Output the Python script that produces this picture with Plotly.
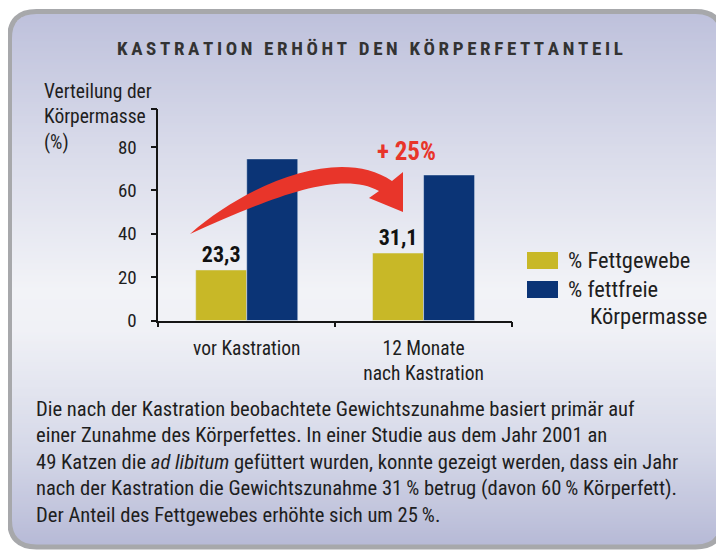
import plotly.graph_objects as go

# ---------------- data ----------------
categories = ["vor Kastration", "12 Monate<br>nach Kastration"]
fat_pct = [23.3, 31.1]           # % Fettgewebe (labelled values)
lean_pct = [74.5, 67.1]          # % fettfreie Körpermasse
series_names = ["% Fettgewebe", "% fettfreie<br>Körpermasse"]
y_tickvals = [0, 20, 40, 60, 80, 97.5]
y_ticktext = ["0", "20", "40", "60", "80", ""]
title_text = "KASTRATION ERHÖHT DEN KÖRPERFETTANTEIL"
y_title = "Verteilung der<br>Körpermasse<br>(%)"
increase_label = "+ 25%"
body_lines = [
    "Die nach der Kastration beobachtete Gewichtszunahme basiert primär auf",
    "einer Zunahme des Körperfettes. In einer Studie aus dem Jahr 2001 an",
    "49 Katzen die <i>ad libitum</i> gefüttert wurden, konnte gezeigt werden, dass ein Jahr",
    "nach der Kastration die Gewichtszunahme 31\u2009% betrug (davon 60\u2009% Körperfett).",
    "Der Anteil des Fettgewebes erhöhte sich um 25\u2009%.",
]

# ---------------- style ----------------
OFF = 8                      # page body margin
W, H = 724 - OFF, 550 - OFF  # figure size so that it fits the window
YELLOW = "#c8b827"
BLUE = "#0b3476"
RED = "#e8352a"
TXT = "#1e1e1e"
FONT = "Roboto Condensed, Roboto, sans-serif"


def px(x, y):
    """page pixel -> paper fraction"""
    return (x - OFF) / W, 1 - (y - OFF) / H


fig = go.Figure()

fig.add_trace(go.Bar(
    x=categories, y=fat_pct, name=series_names[0], marker_color=YELLOW,
    texttemplate="%{y:.1f}", textposition="outside",
    textfont=dict(family=FONT, size=22, color="#111111", weight="bold"),
    cliponaxis=False, showlegend=False,
))
fig.add_trace(go.Bar(
    x=categories, y=lean_pct, name=series_names[1], marker_color=BLUE,
    showlegend=False,
))

# -------- background: rounded panel with vertical gradient --------
stops = [(9, (189, 192, 219)), (150, (217, 219, 234)), (290, (242, 243, 247)),
         (330, (240, 241, 246)), (450, (213, 216, 232)), (548, (182, 185, 214))]


def col_at(y):
    for (y0, c0), (y1, c1) in zip(stops[:-1], stops[1:]):
        if y0 <= y <= y1:
            t = (y - y0) / (y1 - y0)
            return "rgb(%d,%d,%d)" % tuple(round(a + (b - a) * t) for a, b in zip(c0, c1))
    return "rgb(%d,%d,%d)" % stops[-1][1]


X0, X1, Y0, Y1, R = 9.5, 722.5, 11.5, 547.0, 27.0
shapes = []
step = 3
y = Y0
while y < Y1:
    yb = min(y + step, Y1)
    yc = (y + yb) / 2
    inset = 0.0
    if yc < Y0 + R:
        d = Y0 + R - yc
        inset = R - (max(R * R - d * d, 0)) ** 0.5
    elif yc > Y1 - R:
        d = yc - (Y1 - R)
        inset = R - (max(R * R - d * d, 0)) ** 0.5
    ax, ay = px(X0 + inset, y)
    bx, by = px(X1 - inset, yb + 0.6)
    shapes.append(dict(type="rect", xref="paper", yref="paper", x0=ax, x1=bx, y0=by, y1=ay,
                       line=dict(width=0), fillcolor=col_at(yc), layer="below"))
    y = yb


def P(x, y):
    a, b = px(x, y)
    return f"{a:.5f},{b:.5f}"


border = (f"M{P(X0 + R, Y0)} L{P(X1 - R, Y0)} Q{P(X1, Y0)} {P(X1, Y0 + R)} "
          f"L{P(X1, Y1 - R)} Q{P(X1, Y1)} {P(X1 - R, Y1)} L{P(X0 + R, Y1)} "
          f"Q{P(X0, Y1)} {P(X0, Y1 - R)} L{P(X0, Y0 + R)} Q{P(X0, Y0)} {P(X0 + R, Y0)} Z")
shapes.append(dict(type="path", xref="paper", yref="paper", path=border,
                   line=dict(color="#a7a8ab", width=5), fillcolor="rgba(0,0,0,0)", layer="below"))

# -------- curved red arrow --------
arrow = (f"M{P(190, 234)} C{P(250, 182)} {P(340, 146)} {P(392, 181)} "
         f"L{P(403, 172)} L{P(403, 212)} L{P(369, 198)} L{P(379, 191)} "
         f"C{P(338, 168)} {P(262, 202)} {P(190, 234)} Z")
shapes.append(dict(type="path", xref="paper", yref="paper", path=arrow,
                   line=dict(width=0), fillcolor=RED, layer="above"))

# -------- legend swatches --------
for (y0, y1), c in zip([(252, 269), (281, 298)], [YELLOW, BLUE]):
    ax, ay = px(527, y0)
    bx, by = px(558, y1)
    shapes.append(dict(type="rect", xref="paper", yref="paper", x0=ax, x1=bx, y0=by, y1=ay,
                       line=dict(width=0), fillcolor=c, layer="above"))

annotations = []
# title with letter spacing
spaced = "\u2009 \u2009".join("\u2009".join(w) for w in title_text.split(" "))
tx, ty = px(370, 48)
annotations.append(dict(xref="paper", yref="paper", x=tx, y=ty, text=spaced, showarrow=False,
                        xanchor="center", yanchor="middle",
                        font=dict(family=FONT, size=19, color="#333333", weight="bold")))
# y-axis title
ax_, ay_ = px(42, 117)
annotations.append(dict(xref="paper", yref="paper", x=ax_, y=ay_, text=y_title, showarrow=False,
                        xanchor="left", yanchor="middle", align="left",
                        font=dict(family=FONT, size=19.5, color=TXT)))
# + 25 %
ix, iy = px(407, 151)
annotations.append(dict(xref="paper", yref="paper", x=ix, y=iy, text=f"<b>{increase_label}</b>",
                        showarrow=False, xanchor="center", yanchor="middle",
                        font=dict(family=FONT, size=25, color=RED)))
# legend texts
lx, ly = px(566, 260)
annotations.append(dict(xref="paper", yref="paper", x=lx, y=ly, text=series_names[0], showarrow=False,
                        xanchor="left", yanchor="middle", font=dict(family=FONT, size=22.5, color=TXT)))
lx, ly = px(566, 289)
annotations.append(dict(xref="paper", yref="paper", x=lx, y=ly, text=series_names[1].split("<br>")[0],
                        showarrow=False, xanchor="left", yanchor="middle",
                        font=dict(family=FONT, size=22.5, color=TXT)))
lx, ly = px(588, 316)
annotations.append(dict(xref="paper", yref="paper", x=lx, y=ly, text=series_names[1].split("<br>")[1],
                        showarrow=False, xanchor="left", yanchor="middle",
                        font=dict(family=FONT, size=22.5, color=TXT)))
# body text
for i, line in enumerate(body_lines):
    bx_, by_ = px(34, 409 + i * 26.4)
    annotations.append(dict(xref="paper", yref="paper", x=bx_, y=by_, text=line, showarrow=False,
                            xanchor="left", yanchor="middle",
                            font=dict(family=FONT, size=20.6, color=TXT)))

xd0, _ = px(158.3, 0)
xd1, _ = px(512, 0)
_, yd0 = px(0, 320.5)
_, yd1 = px(0, 109)

fig.update_layout(
    width=W, height=H, autosize=False,
    margin=dict(l=0, r=0, t=0, b=0, pad=0, autoexpand=False),
    paper_bgcolor="white", plot_bgcolor="rgba(0,0,0,0)",
    barmode="group", bargap=0.423, bargroupgap=0,
    separators=",.",
    showlegend=False,
    shapes=shapes, annotations=annotations,
    font=dict(family=FONT, color=TXT),
    xaxis=dict(domain=[xd0, xd1], type="category", range=[-0.5, 1.5],
               showline=True, linecolor="#151515", linewidth=1.6,
               ticks="outside", tickson="boundaries", ticklen=5, tickwidth=1.6, tickcolor="#151515",
               showgrid=False, zeroline=False, automargin=False,
               ticklabelstandoff=9,
               tickfont=dict(family=FONT, size=19.5, color=TXT)),
    yaxis=dict(domain=[yd0, yd1], range=[0, 97.5],
               tickvals=y_tickvals, ticktext=y_ticktext,
               showline=True, linecolor="#151515", linewidth=1.6,
               ticks="outside", ticklen=6, tickwidth=1.6, tickcolor="#151515",
               showgrid=False, zeroline=False, automargin=False,
               ticklabelstandoff=10,
               tickfont=dict(family=FONT, size=19, color=TXT)),
)

fig.write_html("out.html")
